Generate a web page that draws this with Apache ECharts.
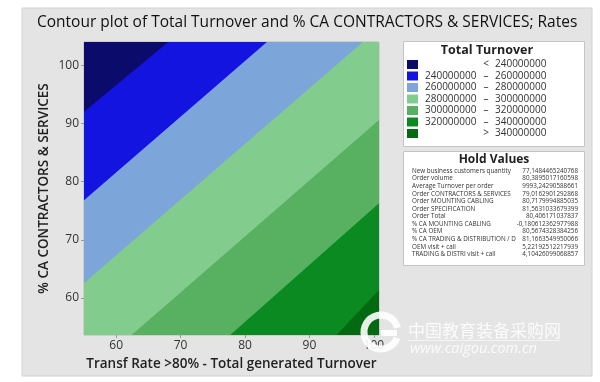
<!DOCTYPE html>
<html><head><meta charset="utf-8">
<script src="https://cdn.jsdelivr.net/npm/echarts@6/dist/echarts.min.js"></script>
<style>html,body{margin:0;padding:0;background:#fff}#c{width:600px;height:382px}</style>
</head><body><div id="c"></div>
<script>
// ---------- data ----------
const xRange = [55, 100.8];
const yRange = [53.65, 104.0];
const xTicks = [60, 70, 80, 90, 100];
const yTicks = [60, 70, 80, 90, 100];
const levels = [240000000, 260000000, 280000000, 300000000, 320000000, 340000000];
const bandColors = ['#0b0b6c', '#1414e0', '#7ca5d9', '#82cc8d', '#57b161', '#0c8a22', '#046a12'];
// contour lines (x, y), from left/bottom edge to top/right edge
const contour240 = [[55, 92.0], [68.1, 104.0]];
const contour260 = [[55, 76.8], [83.4, 104.0]];
const contour280 = [[55, 62.6], [98.3, 104.0]];
const contour300 = [[62.4, 53.65], [100.8, 90.6]];
const contour320 = [[77.7, 53.65], [100.8, 76.3]];
const contour340 = [[94.2, 53.65], [100.8, 61.4]];
const holdNames = [
  'New business customers quantity', 'Order volume', 'Average Turnover per order',
  'Order CONTRACTORS & SERVICES', 'Order MOUNTING CABLING', 'Order SPECIFICATION',
  'Order Total', '% CA MOUNTING CABLING', '% CA OEM',
  '% CA TRADING & DISTRIBUTION / D', 'OEM visit + call', 'TRADING & DISTRI visit + call'
];
const holdValues = [
  '77,1484465240768', '80,3895017160598', '9993,24290588661',
  '79,0162901292868', '80,7179994885035', '81,5631033679399',
  '80,406171037837', '-0,180612362977988', '80,5674328384256',
  '81,1663549950066', '5,22192512217939', '4,10426099068857'
];

// ---------- chart ----------
const contoursPaint = [contour340, contour320, contour300, contour280, contour260, contour240];
const FONT = '"Open Sans", "Noto Sans", sans-serif';
const chart = echarts.init(document.getElementById('c'));

const graphics = [];
// panel background
graphics.push({type: 'rect', z: -10, silent: true,
  shape: {x: 22, y: 8, width: 570, height: 368},
  style: {fill: '#e4e4e4', stroke: '#d2d2d2', lineWidth: 1}});
// legend box
graphics.push({type: 'rect', z: 1, shape: {x: 403.5, y: 41.5, width: 181, height: 105},
  style: {fill: '#fff', stroke: '#c4c4c4', lineWidth: 1}});
graphics.push({type: 'text', z: 2, style: {text: 'Total Turnover', x: 487, y: 50, align: 'center',
  verticalAlign: 'middle', font: 'bold 12.5px ' + FONT, fill: '#222'}});
for (let k = 0; k < bandColors.length; k++) {
  const cy = 64.5 + k * 11.5;
  graphics.push({type: 'rect', z: 2, shape: {x: 407, y: cy - 4.5, width: 11, height: 9},
    style: {fill: bandColors[k]}});
  let left = '', mid = '', right = '';
  if (k === 0) { mid = '<'; right = String(levels[0]); }
  else if (k === bandColors.length - 1) { mid = '>'; right = String(levels[levels.length - 1]); }
  else { left = String(levels[k - 1]); mid = '\u2013'; right = String(levels[k]); }
  const f = '10px ' + FONT;
  if (left) graphics.push({type: 'text', z: 2, style: {text: left, x: 425, y: cy, verticalAlign: 'middle', font: f, fill: '#333'}});
  graphics.push({type: 'text', z: 2, style: {text: mid, x: 486, y: cy, align: 'center', verticalAlign: 'middle', font: f, fill: '#333'}});
  graphics.push({type: 'text', z: 2, style: {text: right, x: 495, y: cy, verticalAlign: 'middle', font: f, fill: '#333'}});
}
// hold values box
graphics.push({type: 'rect', z: 1, shape: {x: 403.5, y: 151.5, width: 181, height: 114},
  style: {fill: '#fff', stroke: '#c4c4c4', lineWidth: 1}});
graphics.push({type: 'text', z: 2, style: {text: 'Hold Values', x: 494, y: 160, align: 'center',
  verticalAlign: 'middle', font: 'bold 12px ' + FONT, fill: '#222'}});
for (let k = 0; k < holdNames.length; k++) {
  const cy = 171 + k * 7.58;
  graphics.push({type: 'text', z: 2, style: {text: holdNames[k], x: 412, y: cy, verticalAlign: 'middle', font: '6.3px ' + FONT, fill: '#333'}});
  graphics.push({type: 'text', z: 2, style: {text: holdValues[k], x: 578, y: cy, align: 'right', verticalAlign: 'middle', font: '6.3px ' + FONT, fill: '#333'}});
}
// watermark
graphics.push({type: 'arc', z: 20, silent: true, shape: {cx: 381, cy: 332, r: 17, startAngle: 0.35, endAngle: 2 * Math.PI - 0.25},
  style: {stroke: 'rgba(255,255,255,0.9)', lineWidth: 7, fill: null}});
graphics.push({type: 'rect', z: 20, silent: true, shape: {x: 381, y: 330, width: 16, height: 6},
  style: {fill: 'rgba(255,255,255,0.9)'}});
graphics.push({type: 'text', z: 20, silent: true, style: {text: '中国教育装备采购网', x: 408, y: 331,
  verticalAlign: 'middle', font: '17px "Noto Sans CJK SC", sans-serif', fill: 'rgba(255,255,255,0.85)'}});
graphics.push({type: 'rect', z: 20, silent: true, shape: {x: 408, y: 340, width: 152, height: 1},
  style: {fill: 'rgba(255,255,255,0.6)'}});
graphics.push({type: 'text', z: 20, silent: true, style: {text: 'www.caigou.com.cn', x: 410, y: 349,
  verticalAlign: 'middle', font: 'italic 14.5px ' + FONT, fill: 'rgba(255,255,255,0.85)'}});

chart.setOption({
  animation: false,
  backgroundColor: '#ffffff',
  title: {
    text: 'Contour plot of Total Turnover and % CA CONTRACTORS & SERVICES; Rates',
    left: 32, top: 10,
    textStyle: {fontFamily: FONT, fontSize: 15.5, fontWeight: 'normal', color: '#111'}
  },
  grid: {left: 84, top: 42, right: 221, bottom: 47, show: true, borderColor: '#b8b8b8', borderWidth: 1, backgroundColor: 'transparent'},
  xAxis: {
    type: 'value', min: xRange[0], max: xRange[1],
    name: 'Transf Rate >80% - Total generated Turnover', nameLocation: 'middle', nameGap: 20,
    nameTextStyle: {fontFamily: FONT, fontSize: 13.5, fontWeight: 600, color: '#222'},
    axisLine: {show: false},
    axisTick: {show: true, length: 3, lineStyle: {color: '#999'}, customValues: xTicks},
    axisLabel: {customValues: xTicks, margin: 5, fontFamily: FONT, fontSize: 12, color: '#333'},
    splitLine: {show: false}
  },
  yAxis: {
    type: 'value', min: yRange[0], max: yRange[1],
    name: '% CA CONTRACTORS & SERVICES', nameLocation: 'middle', nameGap: 33, nameRotate: 90,
    nameTextStyle: {fontFamily: FONT, fontSize: 13.5, fontWeight: 600, color: '#222'},
    axisLine: {show: false},
    axisTick: {show: true, length: 3, lineStyle: {color: '#999'}, customValues: yTicks},
    axisLabel: {customValues: yTicks, margin: 5, fontFamily: FONT, fontSize: 12, color: '#333'},
    splitLine: {show: false}
  },
  series: [{
    type: 'custom',
    clip: true,
    silent: true,
    data: [0, 1, 2, 3, 4, 5, 6],
    renderItem: function (params, api) {
      const i = params.dataIndex;
      const xMin = xRange[0], xMax = xRange[1], yMin = yRange[0], yMax = yRange[1];
      let pts;
      if (i === 0) {
        pts = [[xMin, yMin], [xMax, yMin], [xMax, yMax], [xMin, yMax]];
      } else {
        pts = contoursPaint[i - 1].concat([[xMax, yMax], [xMin, yMax], [xMin, yMin]]);
      }
      const color = bandColors[bandColors.length - 1 - i];
      return {type: 'polygon', shape: {points: pts.map(p => api.coord(p))},
        style: {fill: color, lineWidth: 0}};
    }
  }],
  graphic: graphics
});
</script></body></html>
